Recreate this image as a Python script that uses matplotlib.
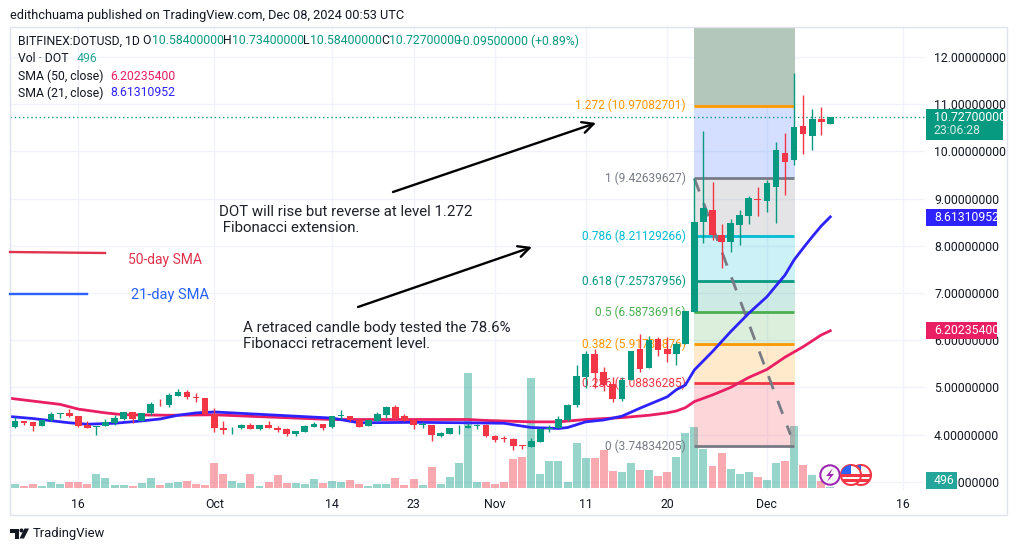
import numpy as np
import matplotlib
matplotlib.use("Agg")
import matplotlib.pyplot as plt
from matplotlib.patches import Rectangle, Circle, Polygon

plt.rcParams["font.family"] = ["Roboto", "DejaVu Sans"]

# Candles, one per day. Day 0 = 16 Sep 2024, last day = 8 Dec 2024
DAYS = np.arange(-7, 84)
OPENS = [4.16, 4.28, 4.26, 4.18, 4.30, 4.43, 4.45, 4.39, 4.21, 4.16, 4.18, 4.24, 4.33, 4.47, 4.29, 4.46,
         4.67, 4.63, 4.82, 4.90, 4.79, 4.77, 4.44, 4.14, 4.13, 4.13, 4.21, 4.12, 4.21, 4.14, 4.11, 4.01,
         4.06, 4.16, 4.22, 4.16, 4.39, 4.40, 4.31, 4.19, 4.29, 4.42, 4.58, 4.39, 4.31, 4.20, 4.20, 3.97,
         4.02, 4.13, 4.13, 4.18, 4.20, 3.97, 3.93, 3.90, 3.77, 3.74, 3.85, 4.11, 4.15, 4.31, 4.63, 5.23,
         5.71, 5.32, 5.07, 4.75, 5.16, 5.81, 5.42, 6.02, 5.81, 5.71, 5.92, 6.60, 8.51, 8.76, 8.23, 8.07,
         8.45, 8.64, 9.00, 8.95, 9.25, 9.96, 9.82, 10.54, 10.33, 10.69, 10.584]
HIGHS = [4.37, 4.28, 4.26, 4.31, 4.47, 4.45, 4.54, 4.39, 4.28, 4.18, 4.34, 4.42, 4.47, 4.47, 4.46, 4.69,
         4.76, 4.88, 4.96, 4.94, 4.89, 4.77, 4.56, 4.29, 4.17, 4.23, 4.24, 4.21, 4.28, 4.18, 4.15, 4.07,
         4.20, 4.26, 4.22, 4.39, 4.52, 4.40, 4.33, 4.30, 4.47, 4.60, 4.62, 4.43, 4.34, 4.27, 4.20, 4.05,
         4.14, 4.20, 4.25, 4.22, 4.22, 3.99, 3.96, 3.92, 3.79, 3.92, 4.14, 4.20, 4.39, 4.65, 5.47, 5.77,
         5.82, 5.43, 5.22, 5.22, 5.77, 6.13, 6.09, 6.06, 6.06, 5.97, 6.62, 9.44, 10.43, 9.35, 8.46, 8.57,
         8.76, 9.06, 9.25, 9.40, 10.20, 10.38, 11.67, 11.20, 10.90, 10.94, 10.734]
LOWS = [4.13, 4.20, 4.08, 4.18, 4.29, 4.35, 4.37, 4.16, 4.15, 4.00, 4.18, 4.20, 4.30, 4.25, 4.28, 4.42,
        4.60, 4.58, 4.82, 4.76, 4.70, 4.43, 4.06, 4.02, 4.02, 4.12, 4.11, 4.10, 4.13, 4.06, 3.97, 3.98,
        4.06, 4.16, 4.10, 4.14, 4.34, 4.29, 4.17, 4.19, 4.28, 4.36, 4.34, 4.29, 4.12, 4.14, 3.87, 3.95,
        4.02, 4.02, 4.13, 4.12, 3.94, 3.85, 3.84, 3.67, 3.69, 3.74, 3.85, 4.06, 4.14, 4.29, 4.58, 4.99,
        4.99, 4.93, 4.70, 4.72, 5.16, 5.33, 5.42, 5.67, 5.53, 5.48, 5.92, 6.60, 8.05, 8.12, 7.54, 7.86,
        8.02, 8.46, 8.63, 8.72, 8.49, 9.08, 9.71, 9.95, 10.03, 10.35, 10.584]
CLOSES = [4.28, 4.25, 4.18, 4.31, 4.43, 4.45, 4.39, 4.18, 4.15, 4.18, 4.27, 4.35, 4.47, 4.32, 4.46, 4.65,
          4.66, 4.83, 4.90, 4.80, 4.78, 4.44, 4.15, 4.10, 4.15, 4.21, 4.12, 4.21, 4.13, 4.10, 4.02, 4.07,
          4.18, 4.22, 4.14, 4.39, 4.41, 4.30, 4.17, 4.30, 4.44, 4.58, 4.36, 4.31, 4.21, 4.21, 3.99, 4.03,
          4.14, 4.14, 4.18, 4.19, 3.96, 3.89, 3.91, 3.76, 3.75, 3.86, 4.12, 4.15, 4.32, 4.63, 5.24, 5.71,
          5.30, 5.05, 4.75, 5.16, 5.77, 5.40, 6.00, 5.79, 5.71, 5.93, 6.62, 8.50, 8.80, 8.23, 8.09, 8.48,
          8.65, 9.01, 8.97, 9.33, 10.03, 9.78, 10.52, 10.37, 10.69, 10.63, 10.727]
# volume in thousands
VOLUMES = [1.8, 0.8, 1.8, 0.8, 2.8, 1.8, 2.8, 2.8, 1.8, 6.8, 4.8, 1.3, 1.3, 0.8, 2.3, 4.8,
           1.3, 2.3, 2.8, 3.3, 1.8, 1.3, 12.2, 6.8, 3.3, 2.3, 6.8, 0.8, 2.8, 6.3, 2.3, 2.3,
           1.8, 4.3, 2.3, 3.3, 2.8, 3.8, 1.8, 0.8, 1.8, 1.8, 4.8, 1.3, 4.3, 1.3, 10.2, 1.8,
           5.3, 12.2, 56.9, 2.8, 2.8, 1.8, 2.8, 14.2, 15.2, 54.4, 6.8, 13.2, 13.2, 2.8, 22.2, 14.7,
           14.7, 18.7, 8.3, 7.8, 12.2, 8.8, 8.8, 5.8, 7.8, 15.2, 27.1, 30.2, 19.3, 10.9, 17.4, 9.4,
           6.9, 7.9, 5.5, 4.0, 12.4, 13.4, 30.7, 11.4, 6.4, 3.5, 0.5]

SMA50_DAYS = [-8, -2, 0, 3, 5, 10, 15, 20, 28, 37, 43, 45, 50, 53, 56, 60, 63, 65, 66, 67, 68, 70, 72, 74, 76, 78, 80, 82, 83]
SMA50 = [4.78, 4.64, 4.54, 4.46, 4.42, 4.41, 4.42, 4.38, 4.32, 4.32, 4.32, 4.30, 4.27, 4.27, 4.32, 4.36, 4.41, 4.46, 4.50, 4.57,
         4.70, 4.84, 5.00, 5.21, 5.38, 5.64, 5.86, 6.11, 6.20]
SMA21_DAYS = [-8, -5, -1, 1, 4, 7, 9, 11, 13, 15, 20, 25, 28, 31, 37, 43, 47, 50, 53, 54, 56, 58, 60, 62, 65, 66, 67, 68, 70, 72, 74,
              76, 78, 79, 80, 81, 82, 83]
SMA21 = [4.39, 4.34, 4.25, 4.22, 4.24, 4.29, 4.33, 4.41, 4.46, 4.48, 4.43, 4.38, 4.35, 4.25, 4.26, 4.25, 4.24, 4.15, 4.13, 4.15, 4.27,
         4.31, 4.39, 4.56, 4.80, 4.95, 5.05, 5.37, 5.76, 6.18, 6.57, 6.92, 7.38, 7.70, 7.95, 8.19, 8.42, 8.613]

FIB_LEVELS = [0, 0.236, 0.382, 0.5, 0.618, 0.786, 1, 1.272]
FIB_PRICES = [3.74834205, 5.08836285, 5.91736876, 6.58736916, 7.25737956, 8.21129266, 9.42639627, 10.97082701]
FIB_COLORS = ["#787B86", "#F23645", "#FF9800", "#4CAF50", "#089981", "#00BCD4", "#787B86", "#FF9800"]
BAND_COLORS = ["#F23645", "#FF9800", "#4CAF50", "#089981", "#00BCD4", "#787B86", "#2962FF"]
FIB_TOP_COLOR = "#B3C7BA"

PRICE_TICKS = [3, 4, 5, 6, 7, 8, 9, 10, 11, 12]
PRICE_LABELS = ["%.8f" % p for p in PRICE_TICKS]
DATE_TICKS = [0, 15, 28, 37, 46, 56, 65, 76, 91]
DATE_LABELS = ["16", "Oct", "14", "23", "Nov", "11", "20", "Dec", "16"]

GREEN = "#089981"
RED = "#F23645"
PINK = "#E91E63"
BLUE = "#2E22FF"
TEXT = "#131722"
GRID = "#F0F3FA"

W, H = 1017, 551
PANE_L, PANE_R, PANE_T, PANE_B = 9.5, 925, 26.7, 490
X0, PX_DAY = 78.3, 9.06
Y12, PX_UNIT = 57, 47.2
VOL_BASE, PX_VOL = 487.7, 1 / 0.496

fig = plt.figure(figsize=(W / 100, H / 100), dpi=100)
rect = [PANE_L / W, 1 - PANE_B / H, (PANE_R - PANE_L) / W, (PANE_B - PANE_T) / H]
ax_vol = fig.add_axes(rect)
ax = fig.add_axes(rect)
ax.patch.set_visible(False)
for a in (ax, ax_vol):
    for s in a.spines.values():
        s.set_visible(False)

xlim = ((PANE_L - X0) / PX_DAY, (PANE_R - X0) / PX_DAY)
ax.set_xlim(xlim)
ax_vol.set_xlim(xlim)
ax.set_ylim(12 - (PANE_B - Y12) / PX_UNIT, 12 + (Y12 - PANE_T) / PX_UNIT)
ax_vol.set_ylim((VOL_BASE - PANE_B) / PX_VOL, (VOL_BASE - PANE_T) / PX_VOL)

# Grid
ax_vol.set_xticks([])
ax_vol.set_yticks([])
for d in DATE_TICKS:
    ax_vol.axvline(d, color=GRID, lw=1, zorder=0)
for p in PRICE_TICKS:
    ax_vol.axhline((p - 12) * PX_UNIT / PX_VOL + (VOL_BASE - Y12) / PX_VOL, color=GRID, lw=1, zorder=0)

# Volume
opens = np.array(OPENS)
closes = np.array(CLOSES)
up = closes >= opens
ax_vol.bar(DAYS, VOLUMES, width=0.88, color=[GREEN if u else RED for u in up], alpha=0.42, lw=0, zorder=2)

# Fibonacci
fib_l, fib_r = 68, 79.1
ax.fill_between([fib_l, fib_r], FIB_PRICES[-1], ax.get_ylim()[1], color=FIB_TOP_COLOR, lw=0, zorder=1)
for i, c in enumerate(BAND_COLORS):
    ax.fill_between([fib_l, fib_r], FIB_PRICES[i], FIB_PRICES[i + 1], color=c, alpha=0.2, lw=0, zorder=1)
for lvl, price, c in zip(FIB_LEVELS, FIB_PRICES, FIB_COLORS):
    ax.plot([fib_l, fib_r - 0.1], [price, price], color=c, lw=2, zorder=2, solid_capstyle="butt")
    ax.text(67.07, price, "%g (%.8f)" % (lvl, price), color=c, ha="right", va="center", fontsize=8.6, zorder=2)
ax.plot([68, 78.6], [9.42639627, 4.0], color="#787B86", lw=2, dashes=(5, 4.5), zorder=2)

# Last price line
ax.axhline(CLOSES[-1], color=GREEN, lw=1, dashes=(1, 2), zorder=2)

# Moving averages
ax.plot(SMA50_DAYS, SMA50, color=PINK, lw=2, zorder=3)
ax.plot(SMA21_DAYS, SMA21, color=BLUE, lw=2, zorder=3)

# Candles
colors = [GREEN if u else RED for u in up]
ax.vlines(DAYS, LOWS, HIGHS, colors=colors, lw=1, zorder=4)
ax.bar(DAYS, np.maximum(np.abs(closes - opens), 0.015), bottom=np.minimum(opens, closes), width=0.74, color=colors, lw=0, zorder=5)

# Axes labels
ax.set_xticks(DATE_TICKS)
ax.set_xticklabels(DATE_LABELS, fontsize=8.8, color=TEXT)
ax.set_yticks(PRICE_TICKS)
ax.set_yticklabels(PRICE_LABELS, fontsize=8.8, color=TEXT)
ax.yaxis.tick_right()
ax.tick_params(axis="both", length=0)
ax.tick_params(axis="x", pad=5.5)
ax.tick_params(axis="y", pad=6.5)

# Everything else is placed in picture pixels
ov = fig.add_axes([0, 0, 1, 1], zorder=5)
ov.set_xlim(0, W)
ov.set_ylim(H, 0)
ov.axis("off")
ov.patch.set_visible(False)

ov.add_patch(Rectangle((9.5, 26.7), 997, 488.3, fill=False, ec="#E0E3EB", lw=1))
ov.text(10, 15, "edithchuama published on TradingView.com, Dec 08, 2024 00:53 UTC", fontsize=9.2, color=TEXT, va="center")

# Header rows
ov.text(18, 41, "BITFINEX:DOTUSD, 1D", fontsize=8.8, color=TEXT, va="center")
for x, s, c in [(142, "O", TEXT), (152, "10.58400000", GREEN), (223, "H", TEXT), (232, "10.73400000", GREEN),
                (303, "L", TEXT), (310, "10.58400000", GREEN), (381, "C", TEXT), (389, "10.72700000", GREEN),
                (456, "+0.09500000 (+0.89%)", GREEN)]:
    ov.text(x, 41, s, fontsize=8.8, color=c, va="center")
ov.text(18, 59, "Vol \u00b7 DOT", fontsize=8.8, color=TEXT, va="center")
ov.text(77, 59, "496", fontsize=8.8, color="#26A69A", va="center")
ov.text(18, 76, "SMA (50, close)", fontsize=8.8, color=TEXT, va="center")
ov.text(110, 76, "6.20235400", fontsize=8.8, color=PINK, va="center")
ov.text(18, 93, "SMA (21, close)", fontsize=8.8, color=TEXT, va="center")
ov.text(110, 93, "8.61310952", fontsize=8.8, color=BLUE, va="center")

# Price tags
for y0, y1, x1, c in [(109, 140, 1002.7, GREEN), (209, 226, 997, BLUE), (322, 339, 997, PINK), (472, 489, 957, "#26A69A")]:
    ov.add_patch(Rectangle((926, y0), x1 - 926, y1 - y0, color=c, lw=0))
ov.text(934, 117.5, "10.72700000", color="white", fontsize=8.8, va="center")
ov.text(934, 131, "23:06:28", color="#CDEBE5", fontsize=8.8, va="center")
ov.text(934, 217.5, "8.61310952", color="white", fontsize=8.8, va="center")
ov.text(934, 330.5, "6.20235400", color="white", fontsize=8.8, va="center")
ov.text(934, 480.5, "496", color="white", fontsize=8.8, va="center")

# Drawn annotations
for tail, head in [((393, 192), (596, 123)), ((358, 307), (532, 247))]:
    ov.annotate("", xy=head, xytext=tail, arrowprops=dict(arrowstyle="->", color="black", lw=1.7, mutation_scale=20, shrinkA=0, shrinkB=0))
ov.text(219, 212, "DOT will rise but reverse at level 1.272", fontsize=10.8, color="#20222A", va="center")
ov.text(219, 228, " Fibonacci extension.", fontsize=10.8, color="#20222A", va="center")
ov.text(243, 328, "A retraced candle body tested the 78.6%", fontsize=10.8, color="#20222A", va="center")
ov.text(243, 344, "Fibonacci retracement level.", fontsize=10.8, color="#20222A", va="center")
ov.plot([10, 105], [252, 253], color="#E0334E", lw=1.7)
ov.text(128, 260, "50-day SMA", fontsize=10, color="#E0334E", va="center")
ov.plot([10, 87], [294, 294], color="#2962FF", lw=1.7)
ov.text(131, 295, "21-day SMA", fontsize=10.5, color="#2962FF", va="center")

# Event icons
ov.add_patch(Circle((830, 475), 9.7, fc="white", ec="#9C27B0", lw=1.5))
ov.add_patch(Polygon([(833, 468), (826, 476), (830, 476), (827, 482), (834, 474), (830, 474)], color="#9C27B0", lw=0))
for cx in (867, 857):
    ring = Circle((cx - 6, 475), 10, fc="white", ec=RED, lw=1.5)
    ov.add_patch(ring)
    for sy, sh in [(474, 3), (479, 3)]:
        st = Rectangle((cx - 16, sy), 20, sh, color=RED, lw=0)
        ov.add_patch(st)
        st.set_clip_path(ring)
    box = Rectangle((cx - 16, 465), 10, 9, color="#2962FF", lw=0)
    ov.add_patch(box)
    box.set_clip_path(ring)

# TradingView logo
ov.add_patch(Polygon([(10, 528.5), (19, 528.5), (19, 538.5), (14.5, 538.5), (14.5, 532.5), (10, 532.5)], color=TEXT, lw=0))
ov.add_patch(Circle((21.5, 530.5), 2, color=TEXT, lw=0))
ov.add_patch(Polygon([(24.5, 528.5), (29, 528.5), (24, 538.5), (19.5, 538.5)], color=TEXT, lw=0))
ov.text(33, 533.5, "TradingView", fontsize=9.4, color=TEXT, va="center")

fig.savefig("out.png", dpi=100)
